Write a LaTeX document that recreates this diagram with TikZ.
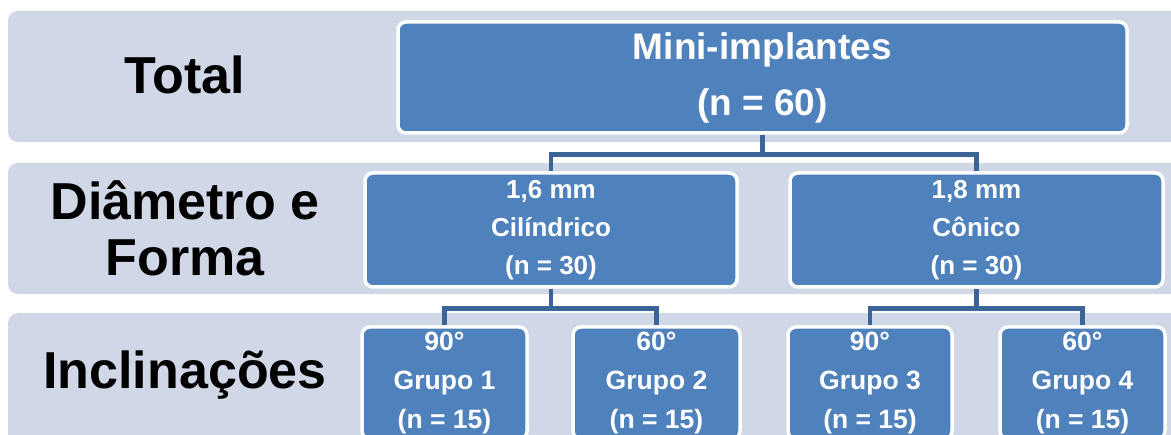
\documentclass[tikz,border=0pt]{standalone}
\usepackage{fontspec}
\setmainfont{Liberation Sans}
\usetikzlibrary{calc}
\definecolor{bandc}{HTML}{D0D8E8}
\definecolor{boxc}{HTML}{4F81BD}
\definecolor{linec}{HTML}{3C6597}
\pgfdeclarelayer{back}
\pgfdeclarelayer{mid}
\pgfsetlayers{back,mid,main}
\tikzset{
  band/.style={fill=bandc, rounded corners=10pt},
  bx/.style={fill=boxc, draw=white, line width=3.5pt, rounded corners=8pt, text=white, align=center, inner sep=0pt, font=\bfseries},
  lab/.style={font=\fontsize{52}{56}\selectfont\bfseries, align=center, text=black},
  conn/.style={draw=linec, line width=4.5pt},
}
\begin{document}
\begin{tikzpicture}[x=1pt,y=-1pt]
\useasboundingbox (0,0) rectangle (1171,435);
\clip (0,0) rectangle (1171,435);
\begin{pgfonlayer}{back}
\fill[white] (0,0) rectangle (1171,435);
\fill[band] (8,11) rectangle (1200,142);
\fill[band] (8,163) rectangle (1200,294);
\fill[band] (8,313) rectangle (1200,460);
\end{pgfonlayer}
\node[lab] (ltot) at (185,75) {Total};
\node[lab] (ldia) at (185,228) {Diâmetro e\\Forma};
\node[lab] (linc) at (185,375) {Inclinações};
\node[bx, minimum width=729pt, minimum height=111pt, font=\fontsize{37}{56}\selectfont\bfseries] (top) at (762.5,77.5) {Mini-implantes\\(n = 60)};
\node[bx, minimum width=372pt, minimum height=114pt, font=\fontsize{26}{38}\selectfont\bfseries] (da) at (551,230) {1,6 mm\\Cilíndrico\\(n = 30)};
\node[bx, minimum width=373pt, minimum height=114pt, font=\fontsize{26}{38}\selectfont\bfseries] (db) at (976.5,230) {1,8 mm\\Cônico\\(n = 30)};
\node[bx, minimum width=165pt, minimum height=112pt, font=\fontsize{26.5}{39}\selectfont\bfseries] (g1) at (444.5,383) {90°\\Grupo 1\\(n = 15)};
\node[bx, minimum width=167pt, minimum height=112pt, font=\fontsize{26.5}{39}\selectfont\bfseries] (g2) at (656.5,383) {60°\\Grupo 2\\(n = 15)};
\node[bx, minimum width=164pt, minimum height=112pt, font=\fontsize{26.5}{39}\selectfont\bfseries] (g3) at (870,383) {90°\\Grupo 3\\(n = 15)};
\node[bx, minimum width=165pt, minimum height=112pt, font=\fontsize{26.5}{39}\selectfont\bfseries] (g4) at (1082.5,383) {60°\\Grupo 4\\(n = 15)};
\begin{pgfonlayer}{mid}
\coordinate (j1) at ($(top.south)+(0,20)$);
\coordinate (j2) at ($(da.south)+(0,20)$);
\coordinate (j3) at ($(db.south)+(0,20)$);
\draw[conn] (top.south) -- (j1) -| (da.north);
\draw[conn] (j1) -| (db.north);
\draw[conn] (da.south) -- (j2) -| (g1.north);
\draw[conn] (j2) -| (g2.north);
\draw[conn] (db.south) -- (j3) -| (g3.north);
\draw[conn] (j3) -| (g4.north);
\end{pgfonlayer}
\end{tikzpicture}
\end{document}
